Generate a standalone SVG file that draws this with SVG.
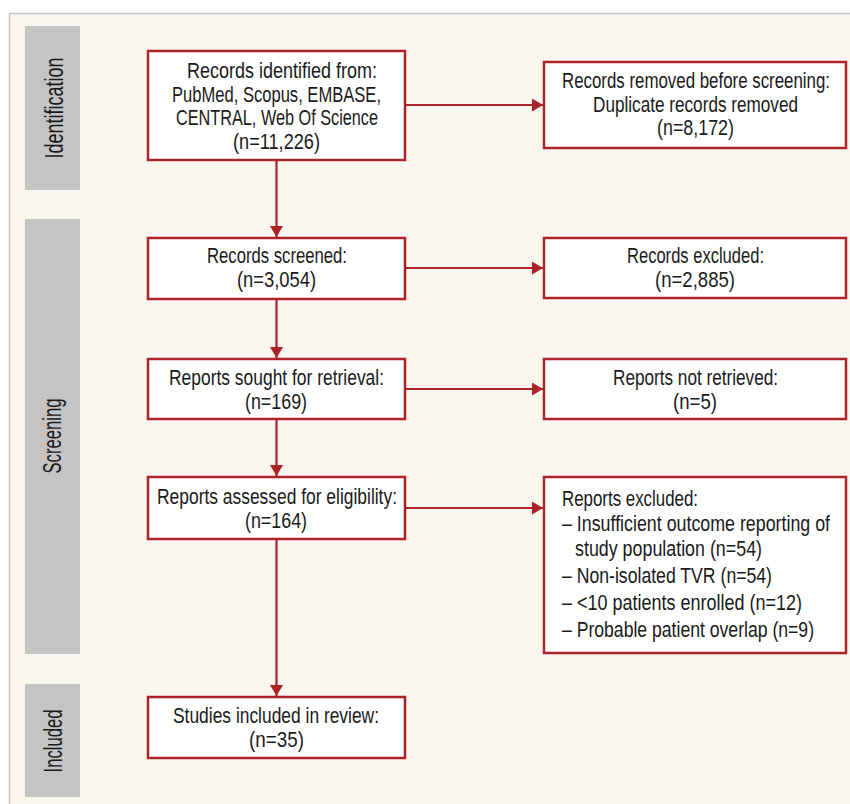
<svg xmlns="http://www.w3.org/2000/svg" width="850" height="804" viewBox="0 0 850 804">
<style>
.panel{fill:#f9f6f0;stroke:#c4c4c4;stroke-width:1.5}
.bar{fill:#c4c4c4}
.box{fill:#ffffff;stroke:#ac2226;stroke-width:2.5}
.t{font-family:"Liberation Sans",Arial,sans-serif;font-size:22px;fill:#1a1a1a}
.c{text-anchor:middle}
.side{font-family:"Liberation Sans",Arial,sans-serif;font-size:25px;fill:#1a1a1a;text-anchor:middle}
.ln{stroke:#ac2226;stroke-width:2.2;fill:none}
</style>
<defs>
<marker id="ah" markerUnits="userSpaceOnUse" markerWidth="12" markerHeight="14" refX="11" refY="6.5" orient="auto">
<path d="M0,0 L11,6.5 L0,13 Z" fill="#ac2226"/>
</marker>
</defs>
<rect width="850" height="804" fill="#ffffff"/>
<rect class="panel" x="9.5" y="13.5" width="850" height="800"/>
<g id="phases">
<rect class="bar" x="25" y="26" width="55" height="164"/>
<text class="side" transform="translate(63,108) rotate(-90) scale(0.8,1)" textLength="126.25" lengthAdjust="spacingAndGlyphs">Identification</text>
<rect class="bar" x="25" y="219" width="55" height="435"/>
<text class="side" transform="translate(61,436) rotate(-90) scale(0.8,1)" textLength="93.75" lengthAdjust="spacingAndGlyphs">Screening</text>
<rect class="bar" x="25" y="684" width="55" height="113"/>
<text class="side" transform="translate(62,741) rotate(-90) scale(0.8,1)" textLength="78.75" lengthAdjust="spacingAndGlyphs">Included</text>
</g>
<g id="connectors">
<line class="ln" x1="276.5" y1="161" x2="276.5" y2="237" marker-end="url(#ah)"/>
<line class="ln" x1="406" y1="105" x2="543" y2="105" marker-end="url(#ah)"/>
<line class="ln" x1="276.5" y1="300" x2="276.5" y2="358" marker-end="url(#ah)"/>
<line class="ln" x1="406" y1="268" x2="543" y2="268" marker-end="url(#ah)"/>
<line class="ln" x1="276.5" y1="420" x2="276.5" y2="476" marker-end="url(#ah)"/>
<line class="ln" x1="406" y1="389" x2="543" y2="389" marker-end="url(#ah)"/>
<line class="ln" x1="276.5" y1="540" x2="276.5" y2="696" marker-end="url(#ah)"/>
<line class="ln" x1="406" y1="508" x2="543" y2="508" marker-end="url(#ah)"/>
</g>
<g id="identified">
<rect class="box" x="148" y="51" width="257" height="109"/>
<text class="t c" transform="translate(282,78) scale(0.8,1)" textLength="237.5" lengthAdjust="spacingAndGlyphs">Records identified from:</text>
<text class="t c" transform="translate(276.5,101.5) scale(0.8,1)" textLength="261.25" lengthAdjust="spacingAndGlyphs">PubMed, Scopus, EMBASE,</text>
<text class="t c" transform="translate(277,125) scale(0.8,1)" textLength="252.5" lengthAdjust="spacingAndGlyphs">CENTRAL, Web Of Science</text>
<text class="t c" transform="translate(276.5,148.5) scale(0.8,1)" textLength="108.75" lengthAdjust="spacingAndGlyphs">(n=11,226)</text>
</g>
<g id="removed">
<rect class="box" x="544" y="62" width="302" height="86"/>
<text class="t c" transform="translate(696,88) scale(0.8,1)" textLength="335" lengthAdjust="spacingAndGlyphs">Records removed before screening:</text>
<text class="t c" transform="translate(695.5,111.5) scale(0.8,1)" textLength="256.25" lengthAdjust="spacingAndGlyphs">Duplicate records removed</text>
<text class="t c" transform="translate(695.5,135) scale(0.8,1)" textLength="96.25" lengthAdjust="spacingAndGlyphs">(n=8,172)</text>
</g>
<g id="screened">
<rect class="box" x="148" y="238" width="257" height="61"/>
<text class="t c" transform="translate(277,263) scale(0.8,1)" textLength="175" lengthAdjust="spacingAndGlyphs">Records screened:</text>
<text class="t c" transform="translate(276.5,286.5) scale(0.8,1)" textLength="98.75" lengthAdjust="spacingAndGlyphs">(n=3,054)</text>
</g>
<g id="excluded">
<rect class="box" x="544" y="238" width="302" height="60"/>
<text class="t c" transform="translate(695.5,263) scale(0.8,1)" textLength="171.25" lengthAdjust="spacingAndGlyphs">Records excluded:</text>
<text class="t c" transform="translate(695,286.5) scale(0.8,1)" textLength="100" lengthAdjust="spacingAndGlyphs">(n=2,885)</text>
</g>
<g id="sought">
<rect class="box" x="148" y="359" width="257" height="60"/>
<text class="t c" transform="translate(276.5,385) scale(0.8,1)" textLength="268.75" lengthAdjust="spacingAndGlyphs">Reports sought for retrieval:</text>
<text class="t c" transform="translate(276,408.5) scale(0.8,1)" textLength="77.5" lengthAdjust="spacingAndGlyphs">(n=169)</text>
</g>
<g id="notretrieved">
<rect class="box" x="544" y="359" width="302" height="60"/>
<text class="t c" transform="translate(695.5,385) scale(0.8,1)" textLength="206.25" lengthAdjust="spacingAndGlyphs">Reports not retrieved:</text>
<text class="t c" transform="translate(695,408.5) scale(0.8,1)" textLength="55" lengthAdjust="spacingAndGlyphs">(n=5)</text>
</g>
<g id="assessed">
<rect class="box" x="148" y="477" width="257" height="62"/>
<text class="t c" transform="translate(277,504) scale(0.8,1)" textLength="300" lengthAdjust="spacingAndGlyphs">Reports assessed for eligibility:</text>
<text class="t c" transform="translate(276,527.5) scale(0.8,1)" textLength="77.5" lengthAdjust="spacingAndGlyphs">(n=164)</text>
</g>
<g id="reportsexcluded">
<rect class="box" x="544" y="477" width="302" height="176"/>
<text class="t" transform="translate(562,506) scale(0.8,1)" textLength="170" lengthAdjust="spacingAndGlyphs">Reports excluded:</text>
<text class="t" transform="translate(562,531) scale(0.8,1)" textLength="335" lengthAdjust="spacingAndGlyphs">– Insufficient outcome reporting of</text>
<text class="t" transform="translate(575,556) scale(0.8,1)" textLength="233.75" lengthAdjust="spacingAndGlyphs">study population (n=54)</text>
<text class="t" transform="translate(562,583) scale(0.8,1)" textLength="262.5" lengthAdjust="spacingAndGlyphs">– Non-isolated TVR (n=54)</text>
<text class="t" transform="translate(562,610) scale(0.8,1)" textLength="300" lengthAdjust="spacingAndGlyphs">– &lt;10 patients enrolled (n=12)</text>
<text class="t" transform="translate(562,637) scale(0.8,1)" textLength="315" lengthAdjust="spacingAndGlyphs">– Probable patient overlap (n=9)</text>
</g>
<g id="included">
<rect class="box" x="148" y="697" width="257" height="61"/>
<text class="t c" transform="translate(276,723) scale(0.8,1)" textLength="257.5" lengthAdjust="spacingAndGlyphs">Studies included in review:</text>
<text class="t c" transform="translate(276.5,746.5) scale(0.8,1)" textLength="68.75" lengthAdjust="spacingAndGlyphs">(n=35)</text>
</g>
</svg>
